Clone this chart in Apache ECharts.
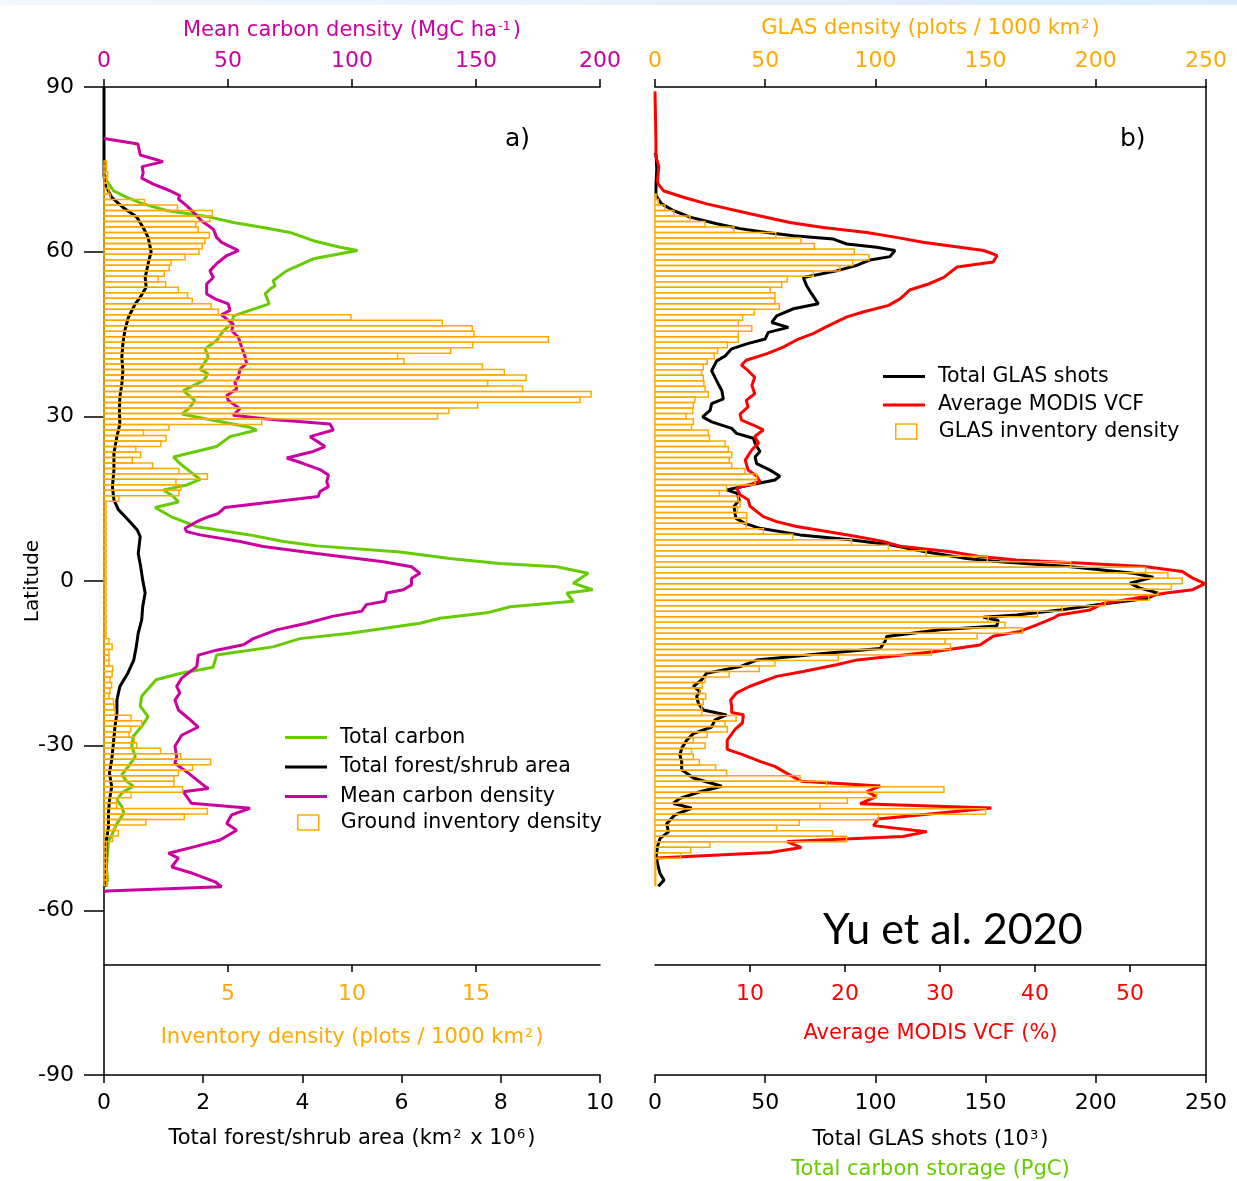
<!DOCTYPE html>
<html><head><meta charset="utf-8">
<script src="https://cdn.jsdelivr.net/npm/echarts@6/dist/echarts.min.js"></script>
<style>html,body{margin:0;padding:0;background:#fff}#c{width:1237px;height:1181px}</style>
</head><body><div id="c"></div>
<script>
// ---------- DATA: panel a ----------  pairs are [latitude, value]
const carbonTotalA = [[74,0.02],[73,0.05],[71.1,0.19],[69.9,0.46],[68.7,0.79],[67.5,1.26],[66.3,2.14],[65.3,2.61],[64.4,3.21],[63.5,3.75],[62,4.22],[60.8,4.76],[60.2,5.11],[58.7,4.22],[56.5,3.68],[54.7,3.41],[53.8,3.45],[53.2,3.35],[52.3,3.25],[50.5,3.33],[49.3,2.94],[48.3,2.61],[46.8,2.57],[45.6,2.41],[43.8,2.27],[42.3,2.04],[40.8,2.10],[38.6,1.94],[37.7,2.10],[36.5,2.0],[34.7,1.6],[32.9,1.83],[31.6,1.73],[30.4,1.57],[29.5,2.07],[28,2.94],[27.5,3.08],[26.3,2.54],[24.5,2.27],[22.6,1.4],[21.4,1.53],[20.2,1.7],[18.5,1.94],[17.5,1.67],[16.6,1.2],[15.4,1.4],[14.4,1.5],[13.4,1.03],[11.7,1.36],[9.9,1.87],[8.4,2.94],[7.2,3.62],[6.4,4.29],[5.3,5.97],[4.1,6.97],[3.2,7.98],[2.6,9.13],[1.4,9.76],[-0.4,9.46],[-1.6,9.85],[-2.2,9.33],[-3.7,9.46],[-4.7,8.19],[-5.8,7.72],[-6.8,6.77],[-7.7,6.37],[-9.5,4.96],[-10.5,3.95],[-12,3.41],[-13.5,2.27],[-15.7,2.2],[-16.8,1.55],[-18,1.05],[-21,0.76],[-22.8,0.73],[-24.7,0.89],[-26.5,0.76],[-28.3,0.59],[-30.1,0.56],[-32,0.63],[-33.8,0.49],[-35.3,0.36],[-36.5,0.46],[-37.4,0.59],[-38.6,0.36],[-39.9,0.26],[-41.1,0.36],[-42.3,0.4],[-44.2,0.26],[-46,0.17],[-47.5,0.09],[-49.6,0.07],[-52.1,0.05],[-54.5,0.07],[-55.7,0.04]];
const forestAreaA = [[90,0],[80,0],[74,0],[72.3,0.02],[69.9,0.155],[68,0.39],[66.3,0.66],[64.4,0.79],[62.6,0.89],[60,0.95],[57.8,0.89],[55.3,0.83],[53.5,0.85],[51.7,0.73],[50.5,0.63],[48,0.49],[45.6,0.42],[43.2,0.38],[40.8,0.36],[38.3,0.38],[35.9,0.36],[33.5,0.32],[31,0.31],[28.6,0.32],[26.3,0.26],[23.3,0.2],[20.2,0.2],[17.2,0.17],[14.8,0.2],[13,0.29],[11.1,0.49],[9.3,0.67],[8.1,0.73],[5,0.69],[2.6,0.74],[0.2,0.78],[-2.2,0.83],[-4.7,0.78],[-7.1,0.76],[-9.5,0.69],[-12,0.65],[-14.4,0.6],[-16.8,0.48],[-19.2,0.32],[-21.7,0.26],[-24.1,0.26],[-26.6,0.22],[-29.6,0.19],[-32.6,0.155],[-35,0.11],[-37.5,0.155],[-39.9,0.11],[-42.3,0.09],[-44.8,0.09],[-47.2,0.05],[-50.8,0.04],[-55.7,0.02]];
const carbonDensityA = [[80.6,0],[79.6,13.7],[77.6,14.6],[76.4,23.8],[75.5,15.4],[74.3,15.8],[73.4,15.2],[72.3,19.9],[71.1,26.6],[70.2,30.6],[69.6,30.0],[68.4,33.3],[67.2,36],[65.6,39.4],[64.1,44.1],[62.6,45.4],[61.7,47.4],[60.2,54.2],[59.3,49.5],[57.8,45.4],[56.5,42.7],[55.3,44.1],[54.1,41.4],[52.3,41.4],[51.4,44.8],[50.5,50.1],[49.3,50.8],[48.5,47.4],[47.7,49.5],[46.8,52.1],[45.6,51.5],[44.4,54.2],[42.6,55.5],[40.8,56.9],[39.6,57.5],[38.6,54.8],[37.1,54.2],[36.2,52.8],[35,53.5],[33.8,49.5],[32.9,50.1],[31.4,54.8],[30.2,52.1],[29.5,65.6],[28.6,91.1],[27.5,92.5],[26.3,83.1],[24.5,89.1],[23.6,84.4],[22.4,73.7],[21.4,80.4],[20.3,87.1],[19.3,90.5],[18.1,89.8],[17.2,90.5],[16.3,87.1],[15.4,86.4],[13.4,48.8],[12.3,46.1],[11.6,41.4],[10.8,37.4],[9.6,32.7],[9.0,33.3],[8.4,38.7],[7.2,54.8],[6.3,64.2],[5.0,85.7],[3.5,112.6],[2.6,124],[1.4,127.4],[0.5,124],[-0.7,124],[-1.6,120.7],[-2.2,114],[-3.7,113.3],[-4.3,105.8],[-5.5,103.9],[-6.4,92.5],[-7.7,81.7],[-8.9,69.6],[-10.5,60.2],[-11.6,56.2],[-12.6,45.4],[-13.5,38],[-15.6,37.4],[-17.7,31.3],[-19.2,29.3],[-20.4,30.6],[-21.7,28.6],[-23.5,30],[-25,34],[-26.6,38],[-28.1,31.3],[-30.1,28.6],[-32,29.3],[-33.2,28.6],[-35,34],[-37.2,40.1],[-37.8,42.1],[-38.4,32],[-40.5,35.3],[-41.4,58.9],[-42.6,51.5],[-44.2,49.5],[-45.4,53.5],[-47.2,46.8],[-48.4,36.7],[-49.6,26],[-50.5,30],[-52.1,27.3],[-53.3,36],[-54.8,44.8],[-55.7,47.4],[-56.5,1.1],[-56.6,0]];
const inventoryA = [[76,0.1],[75,0.1],[74,0.15],[73,0.1],[72,0.15],[71,0.2],[70,0.25],[69,1.63],[68,2.96],[67,4.37],[66,4.27],[65,3.70],[64,3.80],[63,4.25],[62,4.07],[61,3.96],[60,3.83],[59,3.27],[58,2.70],[57,2.63],[56,2.43],[55,2.19],[54,2.49],[53,3.0],[52,3.37],[51,3.56],[50,4.32],[49,4.61],[48,9.96],[47,13.64],[46,14.85],[45,14.92],[44,17.92],[43,14.87],[42,13.98],[41,11.84],[40,12.10],[39,15.26],[38,16.14],[37,17.02],[36,15.47],[35,16.88],[34,19.64],[33,19.2],[32,15.07],[31,13.9],[30,13.45],[29,6.36],[28,2.62],[27,1.59],[26,2.5],[25,2.29],[24,1.28],[23,1.48],[22,1.14],[21,1.96],[20,3.02],[19,4.17],[18,2.9],[17,3.1],[16,3.02],[15,0.6],[14,0.08],[13,0.08],[12,0.08],[11,0.08],[10,0.08],[9,0.08],[8,0.08],[7,0.08],[6,0.08],[5,0.08],[4,0.08],[3,0.08],[2,0.08],[1,0.08],[0,0.08],[-1,0.08],[-2,0.08],[-3,0.08],[-4,0.08],[-5,0.08],[-6,0.08],[-7,0.08],[-8,0.08],[-9,0.08],[-10,0.08],[-11,0.2],[-12,0.33],[-13,0.2],[-14,0.2],[-15,0.2],[-16,0.35],[-17,0.33],[-18,0.24],[-19,0.31],[-20,0.24],[-21,0.2],[-22,0.38],[-23,0.4],[-24,0.44],[-25,1.09],[-26,1.52],[-27,1.08],[-28,1.01],[-29,1.22],[-30,1.32],[-31,2.28],[-32,3.1],[-33,4.3],[-34,3.57],[-35,3.0],[-36,2.82],[-37,2.82],[-38,3.17],[-39,1.09],[-40,0.51],[-41,0.51],[-42,4.17],[-43,3.24],[-44,1.69],[-45,0.44],[-46,0.58],[-47,0.35],[-48,0.1],[-49,0.1],[-50,0.1],[-51,0.1],[-52,0.1],[-53,0.1],[-54,0.1],[-55,0.1]];

// ---------- DATA: panel b ----------
const glasShotsB = [[78,0],[77.6,0.5],[75,0.8],[72.5,0.5],[70.2,0.4],[68.7,3.0],[67.5,8.3],[66.3,15.9],[65.1,28],[64.2,38.6],[63.5,50.7],[62.9,62.8],[62.3,80.9],[61.4,87],[60.8,100.6],[60.2,108.9],[59.1,106.6],[58.5,97.6],[57.5,91.5],[56.5,82.4],[55.3,67.3],[53.8,68.8],[52.3,71.1],[50.5,74.1],[49.6,62.8],[48.3,55.2],[47.1,53],[46.2,60.5],[45.3,51.4],[44.1,50],[43.2,41.6],[42.3,34.8],[41,31.8],[40.1,28],[38.3,25.7],[37.1,27.2],[35.9,28.7],[34.7,30.3],[33.2,31],[32.3,25.7],[31.1,25],[29.9,21.6],[29,25.7],[27.8,34.8],[26.9,37.0],[26,44.6],[25.1,45.4],[23.6,47.6],[22.6,45.4],[21.4,46.1],[20.2,52.2],[19.1,56.7],[18.4,54.4],[17.5,43.1],[16.6,32.5],[16,37.0],[14.8,38.3],[13.6,35.9],[12.3,36.3],[11.4,36.8],[10.5,40.8],[9.6,47.6],[8.4,65.8],[7.5,88.5],[6.6,106.6],[5.3,123.3],[4.1,141.4],[3.5,156.5],[2.6,188.8],[1.4,217],[0.7,226.1],[-0.4,215.5],[-1.3,220],[-2.2,228.4],[-3.2,223.1],[-4.1,204.9],[-5.3,183.8],[-6.2,164.1],[-6.6,149],[-7.2,155.8],[-8.2,155],[-8.9,129.3],[-10.1,105.1],[-11,104.4],[-12.3,102.1],[-13.2,76.4],[-14.4,46.1],[-15.6,38.6],[-16.8,23.4],[-18,21.2],[-19.2,17.4],[-20.1,20.4],[-21,18.9],[-22.3,19.7],[-23.5,21.9],[-24.4,32.5],[-25.3,27.2],[-26.6,25.7],[-27.8,17.4],[-29,14.4],[-30.5,12.1],[-31.7,11.3],[-32.9,12.1],[-34.4,12.1],[-35.9,17.4],[-37.4,30.3],[-38.4,20.4],[-39.6,11.3],[-40.5,8.3],[-41.4,16.6],[-42.6,9.1],[-44.2,5.3],[-45.7,6.1],[-46.9,2.3],[-48.4,1.1],[-50.2,0.5],[-52.1,1.5],[-53.3,2.3],[-54.5,4.1],[-55.6,1.5]];
const modisVcfB = [[89.2,0],[80,0.1],[77.3,0.1],[75.5,0.4],[72.9,0.25],[72.3,0.35],[71.1,0.88],[69.9,2.98],[68.7,5.44],[66.9,10],[65.3,14.2],[64.4,17.7],[63.5,22.3],[62.6,25.4],[61.7,28.2],[60.2,34.6],[59.3,36],[58.1,35.6],[57.2,31.8],[55.3,30.4],[54.1,28.8],[53,26.8],[51.4,25.8],[50.2,24.6],[49,21.9],[48.1,20.2],[47.2,19.1],[46,17.7],[45.1,16.7],[43.9,14.9],[42.6,13.5],[41.4,11.8],[40.2,9.6],[39.3,9.1],[38.3,9.8],[37.1,10.5],[35.6,10.2],[34.1,10.5],[32.9,9.6],[31.7,9.8],[30.4,8.95],[29.3,9.1],[28.4,10.35],[27.5,11.4],[26.3,10.5],[25.1,10.9],[23.9,10.2],[22,9.5],[20.2,9.8],[19.1,10.7],[18.1,11.05],[16.9,8.6],[15.7,8.95],[14.8,9.8],[13.6,10],[11.7,11.4],[10.8,12.8],[9.9,14.9],[9.0,18.1],[8.1,21.2],[7.2,24.0],[6.3,25.8],[5.3,31.1],[4.5,34],[3.8,38],[3.2,45.1],[2.6,51.5],[1.7,55.5],[0.5,56.6],[-0.5,57.9],[-1.6,56.6],[-2.2,53.8],[-3.2,50.4],[-4.1,47.2],[-5.3,45.8],[-6.2,42.5],[-6.8,41.9],[-8,40.2],[-9.2,38.4],[-10.1,35.6],[-11.7,34.2],[-12.9,29.3],[-14.4,21.3],[-15.3,19.1],[-16.5,15.6],[-17.4,12.8],[-19.2,10],[-20.4,8.6],[-21.7,7.96],[-22.9,8.07],[-24,8.07],[-24.4,9.3],[-25.9,9.2],[-27.1,8.4],[-29,7.6],[-30.7,7.6],[-31.7,9.3],[-32.9,11.05],[-33.8,12.6],[-35.4,14.2],[-36.5,15.4],[-37.4,23.7],[-38.4,22.3],[-39.3,23.3],[-40.6,21.6],[-41.4,35.4],[-43.4,23.5],[-44.6,23.0],[-45.7,28.6],[-46.6,26.1],[-47.5,13.9],[-48.6,15.4],[-49.5,12.1],[-50.5,0.18]];
const glasDensityB = [[70,0.5],[69,1.5],[68,4.5],[67,8.6],[66,15.9],[65,22.7],[64,35.8],[63,54.8],[62,66.2],[61,72.3],[60,90.4],[59,97.1],[58,89.7],[57,83.9],[56,71.8],[55,60.0],[54,57.5],[53,52.2],[52,54.4],[51,54.4],[50,56.4],[49,45.1],[48,39.8],[47,37.8],[46,43.9],[45,37.8],[44,37.8],[43,32.8],[42,28.4],[41,26.9],[40,23.7],[39,21.9],[38,21.2],[37,21.9],[36,22.2],[35,22.7],[34,24.2],[33,18.1],[32,17.4],[31,17.1],[30,14.1],[29,17.4],[28,16.6],[27,24.2],[26,24.7],[25,31.8],[24,33.3],[23,34.8],[22,33.7],[21,34.8],[20,40.8],[19,46.1],[18,45.4],[17,32.5],[16,29.2],[15,37.8],[14,38.6],[13,37.4],[12,41.6],[11,41.6],[10,41.3],[9,49.2],[8,62.5],[7,89.2],[6,105.9],[5,123.0],[4,150.8],[3,188.6],[2,222.6],[1,232.7],[0,239.2],[-1,234.3],[-2,228.2],[-3,224],[-4,204.2],[-5,184.8],[-6,173.6],[-7,151.2],[-8,158.8],[-9,166.7],[-10,146.2],[-11,131.6],[-12,134.1],[-13,125.5],[-14,83.2],[-15,54.4],[-16,47.3],[-17,33.7],[-18,22.7],[-19,21.5],[-20,20.4],[-21,23.0],[-22,21.9],[-23,21.2],[-24,21.2],[-25,36.8],[-26,31.8],[-27,32.8],[-28,23.7],[-29,17.4],[-30,22.7],[-31,16.6],[-32,17.4],[-33,20.1],[-34,27.5],[-35,32.5],[-36,65.8],[-37,77.9],[-38,131.1],[-39,100.6],[-40,87.3],[-41,74.9],[-42,150.0],[-43,101.3],[-44,65.5],[-45,55.2],[-46,80.5],[-47,86.9],[-48,24.9],[-49,16.2],[-50,11.6],[-51,0.3],[-52,0.3],[-53,0.3],[-54,0.3],[-55,0.3]];

// ---------- tick values ----------
const latTicks = [-90, 90, 30];
const inventoryTicks = [5, 10, 15];
const vcfTicks = [10, 20, 30, 40, 50];

// ---------- style ----------
const FONT = 'DejaVu Sans';
const GREEN = '#66CC00', MAGENTA = '#CC00A0', ORANGE = '#FFAA00', RED = '#FF0000', BLACK = '#000000';
const NAME_FS = 21, TICK_FS = 22, LEG_FS = 20.5;
const axLine = {show: true, onZero: false, lineStyle: {color: BLACK, width: 1.5}};
const tick = (len) => ({show: true, inside: false, length: len, lineStyle: {color: BLACK, width: 1.5}});
const sup = (c) => ({sup: {fontSize: 13, color: c, fontFamily: FONT, verticalAlign: 'top', padding: [0, 2, 9, 1]}});
const nameStyle = (c, extra) => Object.assign({color: c, fontSize: NAME_FS, fontFamily: FONT, rich: sup(c)}, extra || {});
const lbl = (c, margin, extra) => Object.assign({color: c, fontSize: TICK_FS, fontFamily: FONT, margin: margin}, extra || {});
const toXY = (pairs) => pairs.map(p => [p[1], p[0]]);

function barItem(params, api) {
  const v = api.value(0), lat = api.value(1);
  const p0 = api.coord([0, lat + 0.5]);
  const p1 = api.coord([v, lat - 0.5]);
  return {type: 'rect', shape: {x: p0[0], y: p0[1], width: p1[0] - p0[0], height: p1[1] - p0[1]},
          style: {fill: 'none', stroke: ORANGE, lineWidth: 1.5}};
}

const gridBase = {containLabel: false, outerBoundsMode: 'none', show: false};
const legText = (pad) => ({fontFamily: FONT, fontSize: LEG_FS, color: BLACK, lineHeight: 20, padding: [0, 0, 0, pad]});
const lineLegend = (names) => names.map(n => ({name: n, icon: 'rect'}));
const barLegend = (n) => [{name: n, icon: 'rect', itemStyle: {color: 'rgba(0,0,0,0)', borderColor: ORANGE, borderWidth: 1.5}}];

const option = {
  animation: false,
  backgroundColor: '#ffffff',
  textStyle: {fontFamily: FONT},
  grid: [
    Object.assign({left: 104, top: 87, width: 496, height: 988}, gridBase),
    Object.assign({left: 104, top: 87, width: 496, height: 878}, gridBase),
    Object.assign({left: 655, top: 87, width: 551, height: 988}, gridBase),
    Object.assign({left: 655, top: 87, width: 551, height: 878}, gridBase)
  ],
  xAxis: [
    {gridIndex: 0, type: 'value', position: 'bottom', min: 0, max: 10, interval: 2,
     axisLine: axLine, axisTick: tick(8), splitLine: {show: false},
     axisLabel: lbl(BLACK, 17),
     name: 'Total forest/shrub area (km{sup|2} x 10{sup|6})', nameLocation: 'middle', nameGap: 53, nameMoveOverlap: false,
     nameTextStyle: nameStyle(BLACK)},
    {gridIndex: 0, type: 'value', position: 'top', min: 0, max: 200, interval: 50,
     axisLine: axLine, axisTick: tick(8), splitLine: {show: false},
     axisLabel: lbl(MAGENTA, 15),
     name: 'Mean carbon density (MgC ha{sup|-1})', nameLocation: 'middle', nameGap: 45, nameMoveOverlap: false,
     nameTextStyle: nameStyle(MAGENTA)},
    {gridIndex: 1, type: 'value', position: 'bottom', min: 0, max: 20,
     axisLine: axLine, splitLine: {show: false},
     axisTick: Object.assign(tick(7), {customValues: inventoryTicks}),
     axisLabel: lbl(ORANGE, 18, {customValues: inventoryTicks}),
     name: 'Inventory density (plots / 1000 km{sup|2})', nameLocation: 'middle', nameGap: 62, nameMoveOverlap: false,
     nameTextStyle: nameStyle(ORANGE)},
    {gridIndex: 2, type: 'value', position: 'bottom', min: 0, max: 250, interval: 50,
     axisLine: axLine, axisTick: tick(8), splitLine: {show: false},
     axisLabel: lbl(BLACK, 17),
     name: '{n|Total GLAS shots (10}{sup|3}{n|)}\n{g|Total carbon storage (PgC)}', nameLocation: 'middle', nameGap: 54, nameMoveOverlap: false,
     nameTextStyle: {color: BLACK, fontSize: NAME_FS, fontFamily: FONT,
       rich: Object.assign(sup(BLACK), {n: {fontSize: NAME_FS, color: BLACK, fontFamily: FONT},
                                          g: {fontSize: NAME_FS, color: GREEN, fontFamily: FONT, lineHeight: 38}})}},
    {gridIndex: 2, type: 'value', position: 'top', min: 0, max: 250, interval: 50,
     axisLine: axLine, axisTick: tick(8), splitLine: {show: false},
     axisLabel: lbl(ORANGE, 15),
     name: 'GLAS density (plots / 1000 km{sup|2})', nameLocation: 'middle', nameGap: 47, nameMoveOverlap: false,
     nameTextStyle: nameStyle(ORANGE)},
    {gridIndex: 3, type: 'value', position: 'bottom', min: 0, max: 58,
     axisLine: axLine, splitLine: {show: false},
     axisTick: Object.assign(tick(7), {customValues: vcfTicks}),
     axisLabel: lbl(RED, 18, {customValues: vcfTicks}),
     name: 'Average MODIS VCF (%)', nameLocation: 'middle', nameGap: 58, nameMoveOverlap: false,
     nameTextStyle: nameStyle(RED)}
  ],
  yAxis: [
    {gridIndex: 0, type: 'value', position: 'left', min: latTicks[0], max: latTicks[1], interval: latTicks[2],
     axisLine: axLine, axisTick: tick(20), splitLine: {show: false},
     axisLabel: lbl(BLACK, 30),
     name: 'Latitude', nameLocation: 'middle', nameRotate: 90, nameGap: 61, nameMoveOverlap: false,
     nameTextStyle: {color: BLACK, fontSize: 20, fontFamily: FONT}},
    {gridIndex: 1, type: 'value', min: -70, max: 90, show: false},
    {gridIndex: 2, type: 'value', position: 'right', min: -90, max: 90,
     axisLine: axLine, axisTick: {show: false}, axisLabel: {show: false}, splitLine: {show: false}},
    {gridIndex: 3, type: 'value', min: -70, max: 90, show: false}
  ],
  legend: [
    {left: 285, top: 727, orient: 'vertical', padding: 0, itemWidth: 42, itemHeight: 3, itemGap: 8.5,
     selectedMode: false, data: lineLegend(['Total carbon', 'Total forest/shrub area', 'Mean carbon density']),
     textStyle: legText(8)},
    {left: 297, top: 812, orient: 'vertical', padding: 0, itemWidth: 21, itemHeight: 15,
     selectedMode: false, data: barLegend('Ground inventory density'), textStyle: legText(17)},
    {left: 883, top: 366, orient: 'vertical', padding: 0, itemWidth: 42, itemHeight: 3, itemGap: 7.5,
     selectedMode: false, data: lineLegend(['Total GLAS shots', 'Average MODIS VCF']),
     textStyle: legText(8)},
    {left: 895, top: 421, orient: 'vertical', padding: 0, itemWidth: 21, itemHeight: 15,
     selectedMode: false, data: barLegend('GLAS inventory density'), textStyle: legText(17)}
  ],
  series: [
    {name: 'Total carbon', type: 'line', xAxisIndex: 0, yAxisIndex: 0, data: toXY(carbonTotalA),
     symbol: 'none', showSymbol: false, color: GREEN, itemStyle: {color: GREEN}, lineStyle: {color: GREEN, width: 3}, z: 2},
    {name: 'Total forest/shrub area', type: 'line', xAxisIndex: 0, yAxisIndex: 0, data: toXY(forestAreaA),
     symbol: 'none', showSymbol: false, color: BLACK, itemStyle: {color: BLACK}, lineStyle: {color: BLACK, width: 3}, z: 2},
    {name: 'Mean carbon density', type: 'line', xAxisIndex: 1, yAxisIndex: 0, data: toXY(carbonDensityA),
     symbol: 'none', showSymbol: false, color: MAGENTA, itemStyle: {color: MAGENTA}, lineStyle: {color: MAGENTA, width: 3}, z: 2},
    {name: 'Ground inventory density', type: 'custom', xAxisIndex: 2, yAxisIndex: 1, data: toXY(inventoryA),
     renderItem: barItem, color: ORANGE,
     itemStyle: {color: 'rgba(0,0,0,0)', borderColor: ORANGE, borderWidth: 1.5}, z: 3},
    {name: 'Total GLAS shots', type: 'line', xAxisIndex: 3, yAxisIndex: 2, data: toXY(glasShotsB),
     symbol: 'none', showSymbol: false, color: BLACK, itemStyle: {color: BLACK}, lineStyle: {color: BLACK, width: 3}, z: 2},
    {name: 'Average MODIS VCF', type: 'line', xAxisIndex: 5, yAxisIndex: 3, data: toXY(modisVcfB),
     symbol: 'none', showSymbol: false, color: RED, itemStyle: {color: RED}, lineStyle: {color: RED, width: 3}, z: 2},
    {name: 'GLAS inventory density', type: 'custom', xAxisIndex: 4, yAxisIndex: 2, data: toXY(glasDensityB),
     renderItem: barItem, color: ORANGE,
     itemStyle: {color: 'rgba(0,0,0,0)', borderColor: ORANGE, borderWidth: 1.5}, z: 3}
  ],
  graphic: [
    {type: 'rect', left: 0, top: 0, shape: {width: 1237, height: 5}, silent: true,
     style: {fill: new echarts.graphic.LinearGradient(0, 0, 1, 0, [{offset: 0, color: '#f2f8fd'}, {offset: 1, color: '#dcecf9'}])}},
    {type: 'text', left: 505, top: 127, silent: true,
     style: {text: 'a)', fontSize: 25, fontFamily: FONT, fill: BLACK}},
    {type: 'text', left: 1120, top: 127, silent: true,
     style: {text: 'b)', fontSize: 25, fontFamily: FONT, fill: BLACK}},
    {type: 'text', left: 823, top: 909, silent: true,
     style: {text: 'Yu et al. 2020', fontSize: 43, fontFamily: 'Lato', fill: BLACK}}
  ]
};

const chart = echarts.init(document.getElementById('c'), null, {renderer: 'canvas'});
chart.setOption(option);
</script></body></html>
